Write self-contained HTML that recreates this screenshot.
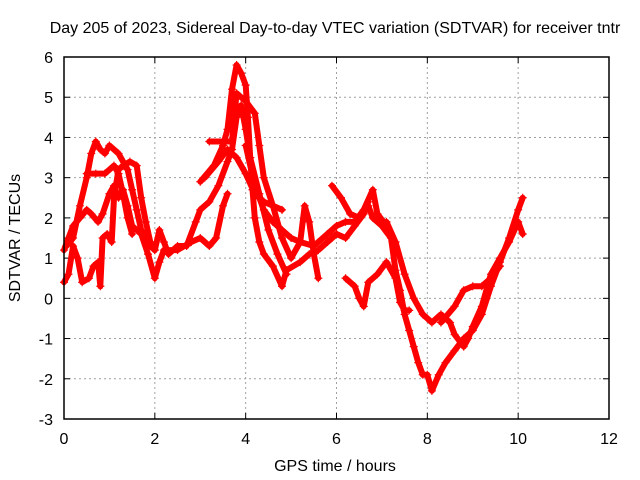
<!DOCTYPE html>
<html><head><meta charset="utf-8"><style>
body{margin:0;background:#fff}
svg{display:block;font-family:"Liberation Sans",sans-serif}
</style></head><body>
<svg id="chart" width="640" height="480">
<text x="335" y="33" font-size="16" text-anchor="middle">Day 205 of 2023, Sidereal Day-to-day VTEC variation (SDTVAR) for receiver tntr</text>
<g id="grid"></g><g id="ticks"></g><g id="series"></g>
<rect x="64" y="57" width="545" height="362" fill="none" stroke="#000" stroke-width="1.5"/>
<text x="335" y="471" font-size="16" text-anchor="middle">GPS time / hours</text>
<text x="20" y="238" font-size="16" text-anchor="middle" transform="rotate(-90 20 238)">SDTVAR / TECUs</text>
</svg>
<script>
const xTicks=[0,2,4,6,8,10,12];
const yTicks=[-3,-2,-1,0,1,2,3,4,5,6];
const trace1=[[0,1.2],[0.1,1.5],[0.2,1.8],[0.35,2.0],[0.5,2.2],[0.6,2.1],[0.75,1.9],[0.85,2.1],[1.0,2.6],[1.1,2.8],[1.2,2.5],[1.3,2.7],[1.4,2.3],[1.5,1.8],[1.7,1.6],[1.85,1.1],[2.0,0.5],[2.1,0.9],[2.2,1.2],[2.5,1.2],[2.8,1.4],[3.0,1.5],[3.2,1.3],[3.35,1.5],[3.5,2.3],[3.6,2.6]];
const trace2=[[0,0.4],[0.1,0.6],[0.2,1.3],[0.3,1.0],[0.4,0.4],[0.55,0.5],[0.65,0.8],[0.75,0.9],[0.8,0.3],[0.85,1.5],[0.95,1.6],[1.05,1.4],[1.1,2.5],[1.2,3.2],[1.3,3.3],[1.45,3.4],[1.6,3.3],[1.7,2.5],[1.8,1.9],[1.9,1.4],[2.0,1.2],[2.1,1.7],[2.2,1.4],[2.3,1.1],[2.5,1.3],[2.7,1.3],[2.9,1.9],[3.0,2.2],[3.2,2.4],[3.4,2.8],[3.6,3.4],[3.7,3.7],[3.8,4.5],[3.9,4.8],[4.0,4.2],[4.1,3.5],[4.15,2.7],[4.2,2.0],[4.3,1.4],[4.4,1.1],[4.6,0.8],[4.8,0.3],[4.9,0.7],[5.2,0.9],[5.4,1.1],[5.6,1.2],[5.9,1.5],[6.0,1.6]];
const trace3=[[0.05,1.3],[0.2,1.5],[0.35,2.3],[0.5,3.0],[0.6,3.6],[0.7,3.9],[0.8,3.7],[0.9,3.6],[1.0,3.8],[1.2,3.6],[1.4,3.2],[1.5,2.7],[1.6,2.2],[1.7,1.7],[1.9,1.3],[2.0,1.2]];
const trace4=[[0.5,3.1],[0.7,3.1],[0.9,3.1],[1.1,3.3],[1.2,3.1],[1.3,2.6],[1.4,2.0],[1.5,1.6]];
const trace5=[[3.0,2.9],[3.3,3.3],[3.5,3.8],[3.6,4.2],[3.7,5.2],[3.8,5.8],[3.9,5.6],[4.0,5.3],[4.05,4.5],[4.1,3.5],[4.3,2.6],[4.5,1.7],[4.7,1.1],[4.9,0.6]];
const trace6=[[3.2,3.9],[3.5,3.9],[3.7,3.9],[3.8,5.1],[4.0,4.9],[4.2,4.6],[4.3,3.8],[4.4,3.0],[4.6,2.3],[4.8,1.5],[5.0,1.0],[5.2,1.4],[5.3,2.3],[5.4,1.9],[5.5,1.1],[5.6,0.5]];
const trace7=[[3.1,3.0],[3.4,3.4],[3.6,3.7],[3.8,3.5],[4.0,3.1],[4.2,2.6],[4.4,2.4],[4.6,2.3],[4.8,2.2]];
const trace8=[[4.0,3.8],[4.2,2.8],[4.4,2.2],[4.6,1.9],[4.8,1.7],[5.0,1.5],[5.2,1.4],[5.5,1.3],[5.8,1.6],[6.0,1.8],[6.2,1.9],[6.4,1.9],[6.6,2.2],[6.8,2.7],[6.9,2.1],[7.1,1.8]];
const trace9=[[5.9,2.8],[6.1,2.5],[6.3,2.1],[6.5,2.0],[6.7,2.3],[6.8,2.0],[7.0,1.8],[7.2,1.5],[7.3,0.7],[7.4,0.2],[7.5,-0.4],[7.6,-0.8],[7.7,-1.2],[7.8,-1.6],[7.9,-1.9],[8.0,-1.9],[8.1,-2.3],[8.25,-1.9],[8.4,-1.6],[8.6,-1.3],[8.8,-1.0],[9.0,-0.8],[9.2,-0.4],[9.4,0.3],[9.6,0.9],[9.8,1.5],[10.0,2.2],[10.1,2.5]];
const trace10=[[7.1,1.9],[7.3,1.4],[7.5,0.6],[7.7,0.0],[7.9,-0.4],[8.0,-0.5],[8.1,-0.6],[8.3,-0.4],[8.5,-0.6],[8.6,-0.9],[8.8,-1.2],[8.9,-1.0],[9.0,-0.7],[9.2,-0.2],[9.4,0.6],[9.6,1.0],[9.8,1.4],[10.0,1.9],[10.1,1.6]];
const trace11=[[6.2,0.5],[6.4,0.3],[6.5,0.0],[6.6,-0.2],[6.7,0.4],[6.9,0.6],[7.1,0.9],[7.3,0.5],[7.4,-0.1],[7.5,-0.3],[7.6,-0.3]];
const trace12=[[8.3,-0.6],[8.6,-0.2],[8.8,0.2],[9.0,0.3],[9.2,0.3],[9.4,0.5],[9.6,0.8]];
const trace13=[[5.8,1.4],[6.0,1.6],[6.2,1.5],[6.4,1.8],[6.6,2.1],[6.7,2.4]];
const traces=[trace1,trace2,trace3,trace4,trace5,trace6,trace7,trace8,trace9,trace10,trace11,trace12,trace13];

const NS='http://www.w3.org/2000/svg';
const X0=64,X1=609,Y0=419,Y1=57;
function sx(v){return X0+(v-0)/(12-0)*(X1-X0);}
function sy(v){return Y0-(v-(-3))/(6-(-3))*(Y0-Y1);}
function mk(tag,attrs,parent){const e=document.createElementNS(NS,tag);for(const k in attrs)e.setAttribute(k,attrs[k]);parent.appendChild(e);return e;}
const grid=document.getElementById('grid'),ticks=document.getElementById('ticks'),ser=document.getElementById('series');
xTicks.forEach(t=>{
  const x=sx(t);
  if(t>0&&t<12){const g=mk('line',{x1:x,x2:x,y1:Y1,y2:Y0,stroke:'#a0a0a0','stroke-dasharray':'2,3'},grid);
  
  }
  mk('line',{x1:x,x2:x,y1:Y0,y2:Y0-6,stroke:'#000'},ticks);
  mk('line',{x1:x,x2:x,y1:Y1,y2:Y1+6,stroke:'#000'},ticks);
  const l=mk('text',{x:x,y:Y0+25,'font-size':16,'text-anchor':'middle'},ticks);
  l.textContent=t;
  
  
});
yTicks.forEach(t=>{
  const y=sy(t);
  if(t>-3&&t<6){const g=mk('line',{x1:X0,x2:X1,y1:y,y2:y,stroke:'#a0a0a0','stroke-dasharray':'2,3'},grid);
  
  }
  mk('line',{x1:X0,x2:X0+6,y1:y,y2:y,stroke:'#000'},ticks);
  mk('line',{x1:X1,x2:X1-6,y1:y,y2:y,stroke:'#000'},ticks);
  const l=mk('text',{x:X0-11,y:y+6,'font-size':16,'text-anchor':'end'},ticks);
  l.textContent=t;
  
  
});
traces.forEach((tr,i)=>{
  const pts=tr.map(p=>sx(p[0]).toFixed(1)+','+sy(p[1]).toFixed(1)).join(' ');
  const pl=mk('polyline',{points:pts,fill:'none',stroke:'#f00','stroke-width':6,'stroke-linejoin':'round','stroke-linecap':'round'},ser);
  
  
  let d='';
  tr.forEach(p=>{const x=sx(p[0]),y=sy(p[1]);d+=`M${x-4},${y}h8M${x},${y-4}v8`;});
  const m=mk('path',{d:d,stroke:'#f00','stroke-width':1.2},ser);
  
  
});
</script>
</body></html>
